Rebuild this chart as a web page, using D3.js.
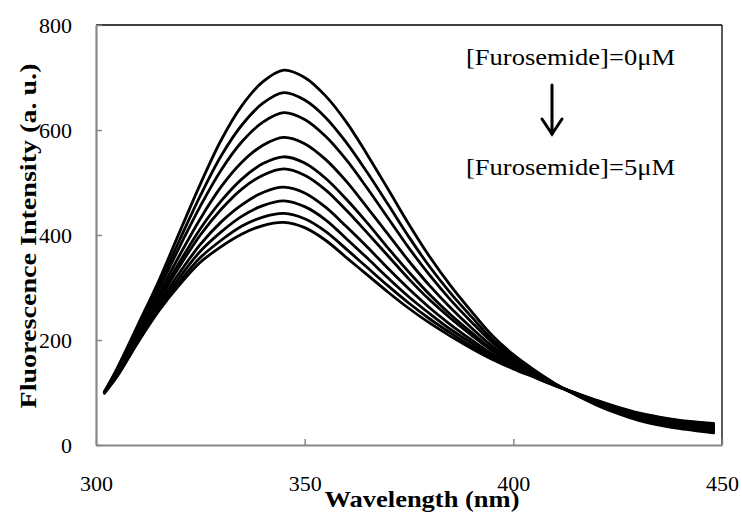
<!DOCTYPE html>
<html>
<head>
<meta charset="utf-8">
<script src="https://cdn.jsdelivr.net/npm/d3@7"></script>
<style>
  body { margin: 0; background: #fff; }
  svg text { font-family: "Liberation Serif", "Times New Roman", serif; fill: #000; }
</style>
</head>
<body>
<div id="chart"></div>
<script>
// emission spectra, one curve per furosemide addition (0 -> 5 uM)
const wavelengths = [302,305,310,315,320,325,330,335,340,345,350,355,360,365,370,375,380,385,390,395,400,405,410,415,420,425,430,435,440,445,448];

const s0 = [101,145,228,312,405,497,581,647,692,714,700,665,615,553,487,420,358,303,254,208,172,143,117,95,76,60,47,38,31,26,23];
const s1 = [101,143,223,303,390,475,551,610,651,671,657,624,576,519,458,396,339,289,244,201,168,141,116,96,77,62,49,40,33,29,26];
const s2 = [100,141,219,296,377,455,524,578,615,633,620,588,543,489,432,375,323,276,234,195,164,139,116,96,79,63,51,42,35,31,28];
const s3 = [100,138,213,287,361,431,492,539,571,586,574,544,502,452,401,350,303,261,223,188,160,137,115,97,80,65,53,45,38,33,31];
const s4 = [100,136,209,280,348,412,465,507,536,549,537,508,468,423,375,329,286,248,214,182,157,135,115,97,81,67,55,47,40,36,33];
const s5 = [100,135,207,275,340,400,449,488,514,526,514,486,447,404,360,316,276,241,209,179,154,134,114,98,82,68,56,48,41,37,35];
const s6 = [100,133,203,268,328,382,425,458,481,491,480,453,416,377,336,297,261,229,200,173,151,132,114,98,83,69,58,50,43,39,37];
const s7 = [99,132,200,263,319,369,406,436,456,465,454,429,393,356,318,282,250,220,194,169,149,131,114,98,84,70,59,51,45,41,38];
const s8 = [99,131,197,258,311,357,390,417,434,441,431,407,373,338,303,270,240,213,188,166,147,130,113,99,84,71,60,52,46,42,40];
const s9 = [99,130,195,255,305,348,378,402,418,424,414,390,357,324,291,260,232,207,184,163,145,129,113,99,85,72,61,53,47,43,41];

const xTicks = [300, 350, 400, 450];
const yTicks = [0, 200, 400, 600, 800];
const annotTop = "[Furosemide]=0\u03bcM";
const annotBottom = "[Furosemide]=5\u03bcM";

const series = [s0, s1, s2, s3, s4, s5, s6, s7, s8, s9];

const width = 742, height = 515;
const margin = { top: 25, right: 20, bottom: 70, left: 96 };

const svg = d3.select("#chart")
    .append("svg")
    .attr("width", width)
    .attr("height", height);

const x = d3.scaleLinear().domain([300, 450]).range([margin.left, width - margin.right]);
const y = d3.scaleLinear().domain([0, 800]).range([height - margin.bottom, margin.top]);

const axisGrey = "#888";

// frame: top and right are black
svg.append("line")
    .attr("x1", x(300)).attr("x2", x(450))
    .attr("y1", y(800)).attr("y2", y(800))
    .attr("stroke", "#000").attr("stroke-width", 1.3);
svg.append("line")
    .attr("x1", x(450)).attr("x2", x(450))
    .attr("y1", y(800)).attr("y2", y(0))
    .attr("stroke", "#000").attr("stroke-width", 1.3);

const xAxis = svg.append("g")
    .attr("transform", `translate(0,${y(0)})`)
    .call(d3.axisBottom(x).tickValues(xTicks).tickSize(-6).tickSizeOuter(0)
        .tickPadding(30).tickFormat(d3.format("d")));

const yAxis = svg.append("g")
    .attr("transform", `translate(${x(300)},0)`)
    .call(d3.axisLeft(y).tickValues(yTicks).tickSize(-6).tickSizeOuter(0)
        .tickPadding(24).tickFormat(d3.format("d")));

[xAxis, yAxis].forEach(g => {
    g.select(".domain").attr("stroke", axisGrey).attr("stroke-width", 2.2);
    g.selectAll(".tick line").attr("stroke", axisGrey).attr("stroke-width", 1.5);
    g.selectAll(".tick text")
        .style("font-family", '"Liberation Serif", "Times New Roman", serif')
        .style("font-size", "22px")
        .attr("fill", "#000");
});

// curves
const line = d3.line()
    .x((d, i) => x(wavelengths[i]))
    .y(d => y(d))
    .curve(d3.curveCatmullRom.alpha(0.5));

svg.append("g")
    .selectAll("path")
    .data(series)
    .join("path")
    .attr("d", line)
    .attr("fill", "none")
    .attr("stroke", "#000")
    .attr("stroke-width", 2.8)
    .attr("stroke-linejoin", "round")
    .attr("stroke-linecap", "round");

// annotation
svg.append("text")
    .attr("x", 466).attr("y", 65)
    .attr("textLength", 209).attr("lengthAdjust", "spacingAndGlyphs")
    .style("font-size", "24px")
    .text(annotTop);
svg.append("text")
    .attr("x", 466).attr("y", 175)
    .attr("textLength", 209).attr("lengthAdjust", "spacingAndGlyphs")
    .style("font-size", "24px")
    .text(annotBottom);

const arrow = svg.append("g")
    .attr("stroke", "#000").attr("stroke-width", 3)
    .attr("fill", "none").attr("stroke-linecap", "round");
arrow.append("line").attr("x1", 552).attr("x2", 552).attr("y1", 85).attr("y2", 134);
arrow.append("path").attr("d", "M542,119 L552,134 L562,119");

// axis titles
svg.append("text")
    .attr("x", 422).attr("y", 507)
    .attr("text-anchor", "middle")
    .attr("textLength", 195).attr("lengthAdjust", "spacingAndGlyphs")
    .style("font-size", "24px").style("font-weight", "bold")
    .text("Wavelength (nm)");

svg.append("text")
    .attr("transform", "translate(36,236) rotate(-90)")
    .attr("text-anchor", "middle")
    .attr("textLength", 345).attr("lengthAdjust", "spacingAndGlyphs")
    .style("font-size", "24px").style("font-weight", "bold")
    .text("Fluorescence Intensity (a. u.)");
</script>
</body>
</html>
